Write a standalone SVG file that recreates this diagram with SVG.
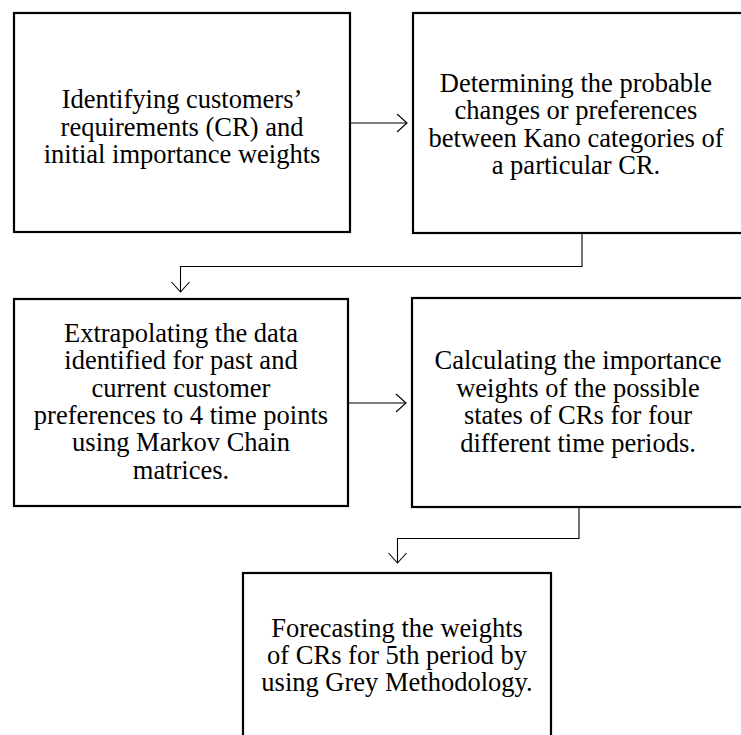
<svg xmlns="http://www.w3.org/2000/svg" width="741" height="735" viewBox="0 0 741 735">
  <defs>
    <style>
      .box { fill: #ffffff; stroke: #000000; stroke-width: 2.2; }
      .lbl { font-family: "Liberation Serif", "Times New Roman", serif; font-size: 26.5px; fill: #000000; text-anchor: middle; }
      .wire { fill: none; stroke: #000000; stroke-width: 1.1; }
    </style>
    <marker id="chevron" viewBox="0 0 12 20" refX="11" refY="10" markerWidth="12" markerHeight="20" markerUnits="userSpaceOnUse" orient="auto">
      <path d="M1,1 L11,10 L1,19" fill="none" stroke="#000000" stroke-width="1.1"/>
    </marker>
  </defs>
  <rect width="741" height="735" fill="#ffffff"/>

  <g id="step1">
    <rect class="box" x="14" y="13" width="336" height="219"/>
    <text class="lbl" x="182" y="108">Identifying customers’</text>
    <text class="lbl" x="182" y="136">requirements (CR) and</text>
    <text class="lbl" x="182" y="163">initial importance weights</text>
  </g>

  <g id="step2">
    <rect class="box" x="413" y="13" width="330" height="220"/>
    <text class="lbl" x="576" y="92">Determining the probable</text>
    <text class="lbl" x="576" y="119">changes or preferences</text>
    <text class="lbl" x="576" y="147">between Kano categories of</text>
    <text class="lbl" x="576" y="174">a particular CR.</text>
  </g>

  <g id="step3">
    <rect class="box" x="14" y="299" width="334" height="207"/>
    <text class="lbl" x="181" y="342">Extrapolating the data</text>
    <text class="lbl" x="181" y="369">identified for past and</text>
    <text class="lbl" x="181" y="397">current customer</text>
    <text class="lbl" x="181" y="424">preferences to 4 time points</text>
    <text class="lbl" x="181" y="451">using Markov Chain</text>
    <text class="lbl" x="181" y="479">matrices.</text>
  </g>

  <g id="step4">
    <rect class="box" x="412" y="298" width="332" height="209"/>
    <text class="lbl" x="578" y="369">Calculating the importance</text>
    <text class="lbl" x="578" y="397">weights of the possible</text>
    <text class="lbl" x="578" y="424">states of CRs for four</text>
    <text class="lbl" x="578" y="452">different time periods.</text>
  </g>

  <g id="step5">
    <rect class="box" x="243" y="573" width="308" height="180"/>
    <text class="lbl" x="397" y="637">Forecasting the weights</text>
    <text class="lbl" x="397" y="664">of CRs for 5th period by</text>
    <text class="lbl" x="397" y="691">using Grey Methodology.</text>
  </g>

  <g id="connectors">
    <line class="wire" x1="351" y1="123" x2="407" y2="123" marker-end="url(#chevron)"/>
    <polyline class="wire" points="582,234 582,266.5 180.5,266.5 180.5,292" marker-end="url(#chevron)"/>
    <line class="wire" x1="349" y1="403" x2="406" y2="403" marker-end="url(#chevron)"/>
    <polyline class="wire" points="579,508 579,538.5 397.5,538.5 397.5,563" marker-end="url(#chevron)"/>
  </g>
</svg>
